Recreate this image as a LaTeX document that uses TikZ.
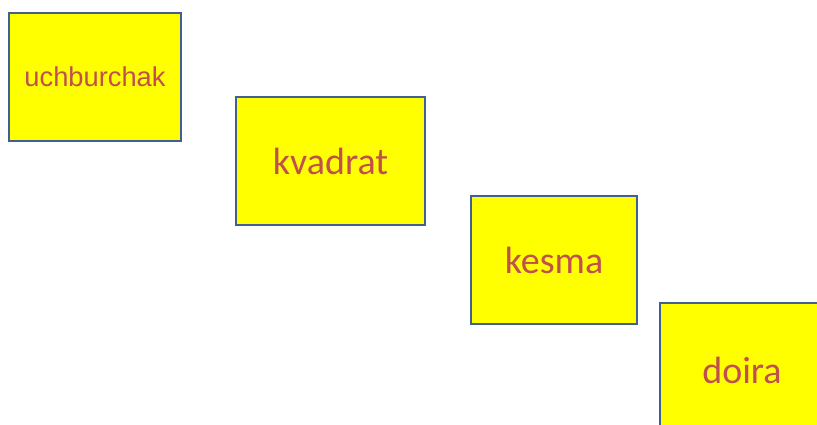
\documentclass[tikz,border=0pt]{standalone}
\usepackage{fontspec}
\setmainfont{Carlito}
\newfontfamily\arialfont{Liberation Sans}
\definecolor{boxedge}{HTML}{3F6090}
\definecolor{boxtext}{HTML}{C0504D}
\definecolor{boxfill}{HTML}{FFFF00}
\begin{document}
\begin{tikzpicture}[x=1pt,y=-1pt,
  card/.style={draw=boxedge, line width=2.5pt, fill=boxfill, text=boxtext, inner sep=0pt}]
\clip (0,0) rectangle (817,425);
\fill[white] (0,0) rectangle (817,425);
\node[card, minimum width=172pt, minimum height=128pt, font=\arialfont\fontsize{27.3}{31}\selectfont] (tri) at (95,77) {uchburchak};
\node[card, minimum width=189pt, minimum height=128pt, font=\fontsize{38}{44}\selectfont] (sq) at (330.5,161) {kvadrat};
\node[card, minimum width=166pt, minimum height=128pt, font=\fontsize{38}{44}\selectfont] (seg) at (554,260) {kesma};
\node[card, minimum width=164pt, minimum height=134pt, font=\fontsize{38}{44}\selectfont] (circ) at (742,370) {doira};
\end{tikzpicture}
\end{document}
